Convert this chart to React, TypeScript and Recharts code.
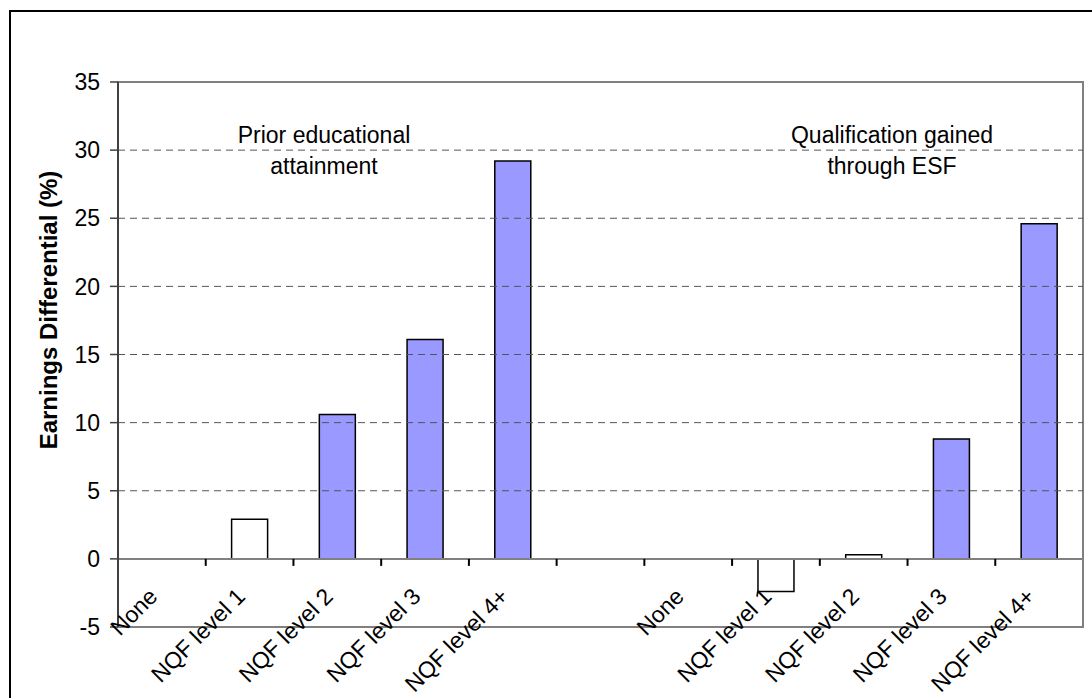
import React from "react";
import {
  BarChart,
  Bar,
  Cell,
  XAxis,
  YAxis,
  ReferenceLine,
  ReferenceArea,
} from "recharts";

// Categories for each panel (the same qualification levels appear twice)
const categories = ["None", "NQF level 1", "NQF level 2", "NQF level 3", "NQF level 4+"];

// Earnings differential (%) by prior educational attainment
const priorValues: (number | null)[] = [null, 2.9, 10.6, 16.1, 29.2];
// Earnings differential (%) by qualification gained through ESF
const esfValues: (number | null)[] = [null, -2.4, 0.3, 8.8, 24.6];

// Bars that are not significant are drawn hollow
const priorFills = ["#FFFFFF", "#FFFFFF", "#9999FF", "#9999FF", "#9999FF"];
const esfFills = ["#FFFFFF", "#FFFFFF", "#FFFFFF", "#9999FF", "#9999FF"];

const yTicks = [-5, 0, 5, 10, 15, 20, 25, 30, 35];
const gridValues = [5, 10, 15, 20, 25, 30];
const Y_MIN = -5;
const Y_MAX = 35;

const groupTitles = [
  ["Prior educational", "attainment"],
  ["Qualification gained", "through ESF"],
];

type Row = { key: string; label: string; value: number | null; fill: string };

const rows: Row[] = [
  ...categories.map((c, i) => ({ key: `prior-${i}`, label: c, value: priorValues[i], fill: priorFills[i] })),
  { key: "gap", label: "", value: null, fill: "#FFFFFF" },
  ...categories.map((c, i) => ({ key: `esf-${i}`, label: c, value: esfValues[i], fill: esfFills[i] })),
];

const FONT = "'Liberation Sans', Arial, sans-serif";
const FONT_SIZE = 23;
const WIDTH = 1092;
const HEIGHT = 698;
const MARGIN = { top: 82, right: 9, bottom: 0, left: 0 };
const Y_AXIS_WIDTH = 118;
const X_AXIS_HEIGHT = 71;
const PLOT_TOP = MARGIN.top;
const PLOT_HEIGHT = HEIGHT - MARGIN.top - MARGIN.bottom - X_AXIS_HEIGHT;
const PLOT_WIDTH = WIDTH - MARGIN.left - MARGIN.right - Y_AXIS_WIDTH;
const BAND = PLOT_WIDTH / rows.length;
// pixel row of the zero line, where category labels hang
const ZERO_Y = PLOT_TOP + ((Y_MAX - 0) / (Y_MAX - Y_MIN)) * PLOT_HEIGHT;

const CategoryTick = (props: any) => {
  const { x, index } = props;
  const row = rows[index];
  const tx = x - 3;
  const ty = ZERO_Y + 39;
  return (
    <g>
      {index > 0 && (
        <line x1={x - BAND / 2} x2={x - BAND / 2} y1={ZERO_Y} y2={ZERO_Y + 7} stroke="#000" strokeWidth={2} />
      )}
      {row && row.label && (
        <text
          x={tx}
          y={ty}
          textAnchor="end"
          fontFamily={FONT}
          fontSize={FONT_SIZE}
          fill="#000"
          transform={`rotate(-45, ${tx}, ${ty})`}
        >
          {row.label}
        </text>
      )}
    </g>
  );
};

export default function App() {
  return (
    <div
      style={{
        position: "fixed",
        left: 0,
        top: 0,
        width: WIDTH,
        height: HEIGHT,
        overflow: "hidden",
        background: "#fff",
      }}
    >
      {/* outer chart frame */}
      <div
        style={{
          position: "absolute",
          left: 9,
          top: 10,
          width: 1200,
          height: 800,
          border: "2px solid #000",
        }}
      />
      <div style={{ position: "absolute", left: 0, top: 0 }}>
        <BarChart
          width={WIDTH}
          height={HEIGHT}
          data={rows}
          margin={MARGIN}
          barCategoryGap="29.5%"
        >
          <ReferenceArea
            y1={Y_MIN}
            y2={Y_MAX}
            fill="none"
            stroke="#808080"
            strokeWidth={2}
            ifOverflow="visible"
          />
          {gridValues.map((v) => (
            <ReferenceLine key={v} y={v} stroke="#555" strokeWidth={1} strokeDasharray="7 5" />
          ))}
          <ReferenceLine y={0} stroke="#808080" strokeWidth={2} />
          <XAxis
            dataKey="key"
            height={X_AXIS_HEIGHT}
            interval={0}
            tickLine={false}
            axisLine={false}
            tick={<CategoryTick />}
          />
          <YAxis
            width={Y_AXIS_WIDTH}
            domain={[Y_MIN, Y_MAX]}
            ticks={yTicks}
            interval={0}
            axisLine={{ stroke: "#404040", strokeWidth: 2 }}
            tickLine={{ stroke: "#404040", strokeWidth: 1.5 }}
            tickSize={8}
            tickMargin={10}
            tick={{ fontFamily: FONT, fontSize: FONT_SIZE, fill: "#000" }}
          />
          <Bar dataKey="value" stroke="#000" strokeWidth={1.5} isAnimationActive={false}>
            {rows.map((r) => (
              <Cell key={r.key} fill={r.fill} />
            ))}
          </Bar>
        </BarChart>
      </div>
      <svg
        width={WIDTH}
        height={HEIGHT}
        style={{ position: "absolute", left: 0, top: 0, pointerEvents: "none" }}
      >
        <text
          x={57}
          y={310}
          textAnchor="middle"
          fontFamily={FONT}
          fontSize={24}
          fontWeight="bold"
          transform="rotate(-90, 57, 310)"
        >
          Earnings Differential (%)
        </text>
        {groupTitles.map((lines, g) => (
          <text
            key={g}
            x={g === 0 ? 324 : 892}
            y={143}
            textAnchor="middle"
            fontFamily={FONT}
            fontSize={FONT_SIZE}
            fill="#000"
          >
            {lines.map((l, i) => (
              <tspan key={i} x={g === 0 ? 324 : 892} dy={i === 0 ? 0 : 31}>
                {l}
              </tspan>
            ))}
          </text>
        ))}
      </svg>
    </div>
  );
}
